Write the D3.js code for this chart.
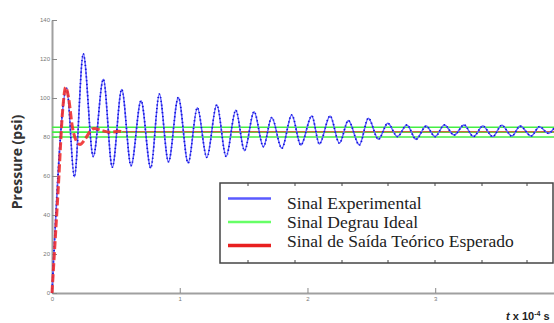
<!DOCTYPE html>
<html>
<head>
<meta charset="utf-8">
<script src="https://cdn.jsdelivr.net/npm/d3@7"></script>
<style>
  body { margin: 0; background: #fff; }
  svg { display: block; }
</style>
</head>
<body>
<div id="chart"></div>
<script>
// time in units of 1e-4 s, pressure in psi
const expT = [0, 0.115, 0.175, 0.245, 0.323, 0.402, 0.472, 0.546, 0.619, 0.697, 0.773,
  0.840, 0.912, 0.989, 1.066, 1.138, 1.212, 1.290, 1.363, 1.439, 1.507, 1.582, 1.655,
  1.720, 1.799, 1.877, 1.948, 2.034, 2.093, 2.177, 2.250, 2.320, 2.406, 2.477, 2.555,
  2.629, 2.704, 2.778, 2.850, 2.929, 2.999, 3.072, 3.148, 3.226, 3.299, 3.373, 3.451,
  3.521, 3.600, 3.665, 3.751, 3.816, 3.886, 3.93];
const expP = [0, 105, 59.6, 122.6, 70, 109.6, 64.5, 104.4, 65.3, 98.6, 64.1,
  102, 67.3, 100.3, 66.7, 95, 69.5, 96.5, 70, 93.7, 73, 93, 75,
  90, 74.2, 91.3, 75.9, 90.8, 76.4, 90.8, 76.8, 88.4, 75.9, 89.6, 78.8,
  87, 80.2, 86.2, 78.8, 85.6, 80.2, 86.2, 81, 86.2, 80.2, 85.6, 80.2,
  86, 80.5, 85.6, 80.5, 85.3, 81.9, 84.5];

const theoT = [0, 0.05, 0.085, 0.107, 0.13, 0.16, 0.19, 0.219, 0.26, 0.3, 0.331, 0.38, 0.46, 0.52, 0.55];
const theoP = [0, 55, 95, 105.5, 100, 85, 78, 76.2, 79, 83, 84.4, 83.5, 82.4, 83, 82.7];
const theoFinal = 82.7;

const stepLevels = [80, 82.5, 85];

const xTicks = [0, 1, 2, 3];
const yTicks = [0, 20, 40, 60, 80, 100, 120, 140];

const legendLabels = ['Sinal Experimental', 'Sinal Degrau Ideal', 'Sinal de Saída Teórico Esperado'];
const legendColors = ['#5a5aff', '#66ff66', '#e82020'];

const W = 554, H = 323;
const svg = d3.select('#chart').append('svg').attr('width', W).attr('height', H);

const x = d3.scaleLinear().domain([0, 3.93]).range([52, 554]);
const y = d3.scaleLinear().domain([0, 140]).range([293, 20]);

// axes
const xAxis = svg.append('g')
  .attr('transform', `translate(0,${y(0)})`)
  .call(d3.axisBottom(x).tickValues(xTicks).tickFormat(d3.format('d'))
    .tickSize(-5).tickSizeOuter(0).tickPadding(4));
const yAxis = svg.append('g')
  .attr('transform', `translate(${x(0)},0)`)
  .call(d3.axisLeft(y).tickValues(yTicks).tickFormat(d3.format('d'))
    .tickSize(-5).tickSizeOuter(0).tickPadding(2));

[xAxis, yAxis].forEach(a => {
  a.select('.domain').attr('stroke', '#a0a0a0').attr('stroke-width', 2);
  a.selectAll('.tick line').attr('stroke', '#888').attr('stroke-width', 1);
  a.selectAll('.tick text').attr('fill', '#777').style('font-size', '6px')
    .style('font-family', "'Liberation Sans', Arial, sans-serif");
});

// step reference lines
svg.selectAll('line.step')
  .data(stepLevels)
  .enter()
  .append('line')
  .attr('class', 'step')
  .attr('x1', x(0)).attr('x2', W)
  .attr('y1', d => y(d)).attr('y2', d => y(d))
  .attr('stroke', '#44ee44')
  .attr('stroke-width', 1.6);

// theoretical final value, thin
svg.append('line')
  .attr('x1', x(theoT[theoT.length - 1])).attr('x2', W)
  .attr('y1', y(theoFinal)).attr('y2', y(theoFinal))
  .attr('stroke', '#e84030')
  .attr('stroke-width', 1);

// experimental signal
const expData = expT.map((t, i) => ({ t: t, p: expP[i] }));
const line = d3.line().x(d => x(d.t)).y(d => y(d.p)).curve(d3.curveMonotoneX);

svg.append('path')
  .datum(expData)
  .attr('d', line)
  .attr('fill', 'none')
  .attr('stroke', '#6262ff')
  .attr('stroke-width', 1.5);
svg.append('path')
  .datum(expData)
  .attr('d', line)
  .attr('fill', 'none')
  .attr('stroke', '#1010d8')
  .attr('stroke-width', 1.7)
  .attr('stroke-dasharray', '1.2,2.6');

// theoretical response, dashed
const theo = theoT.map((t, i) => ({ t: t, p: theoP[i] }));
svg.append('path')
  .datum(theo)
  .attr('d', line)
  .attr('fill', 'none')
  .attr('stroke', '#f03030')
  .attr('stroke-opacity', 0.9)
  .attr('stroke-width', 3)
  .attr('stroke-dasharray', '8,3');

// legend
const lg = svg.append('g');
lg.append('rect')
  .attr('x', 220).attr('y', 183)
  .attr('width', 333).attr('height', 80)
  .attr('fill', '#fff')
  .attr('stroke', '#444')
  .attr('stroke-width', 1.5);
const edgeTicks = [248, 295, 342, 388, 435, 482, 527];
edgeTicks.forEach(tx => {
  lg.append('line').attr('x1', tx).attr('x2', tx).attr('y1', 183).attr('y2', 186)
    .attr('stroke', '#444').attr('stroke-width', 1);
  lg.append('line').attr('x1', tx).attr('x2', tx).attr('y1', 260).attr('y2', 263)
    .attr('stroke', '#444').attr('stroke-width', 1);
});
legendLabels.forEach((lab, i) => {
  const ly = 198.5 + i * 23.5;
  lg.append('line')
    .attr('x1', 228).attr('x2', 271)
    .attr('y1', ly).attr('y2', ly)
    .attr('stroke', legendColors[i])
    .attr('stroke-width', i === 2 ? 3.5 : 2.5);
  lg.append('text')
    .attr('x', 287).attr('y', 208.5 + i * 19)
    .attr('fill', '#222')
    .style('font-family', "'Liberation Serif', 'Times New Roman', serif")
    .style('font-size', '17.5px')
    .text(lab);
});

// axis titles
svg.append('text')
  .attr('transform', 'translate(22,162) rotate(-90)')
  .attr('text-anchor', 'middle')
  .attr('fill', '#333')
  .style('font-family', "'Open Sans', 'Liberation Sans', sans-serif")
  .style('font-weight', 'bold')
  .style('font-size', '14px')
  .text('Pressure (psi)');

const xl = svg.append('text')
  .attr('x', 506).attr('y', 320)
  .attr('fill', '#222')
  .style('font-family', "'Liberation Sans', Arial, sans-serif")
  .style('font-weight', 'bold')
  .style('font-size', '11px');
xl.append('tspan').style('font-style', 'italic').text('t');
xl.append('tspan').text(' x 10');
xl.append('tspan').attr('dy', -4).style('font-size', '7px').text('-4');
xl.append('tspan').attr('dy', 4).text(' s');
</script>
</body>
</html>
